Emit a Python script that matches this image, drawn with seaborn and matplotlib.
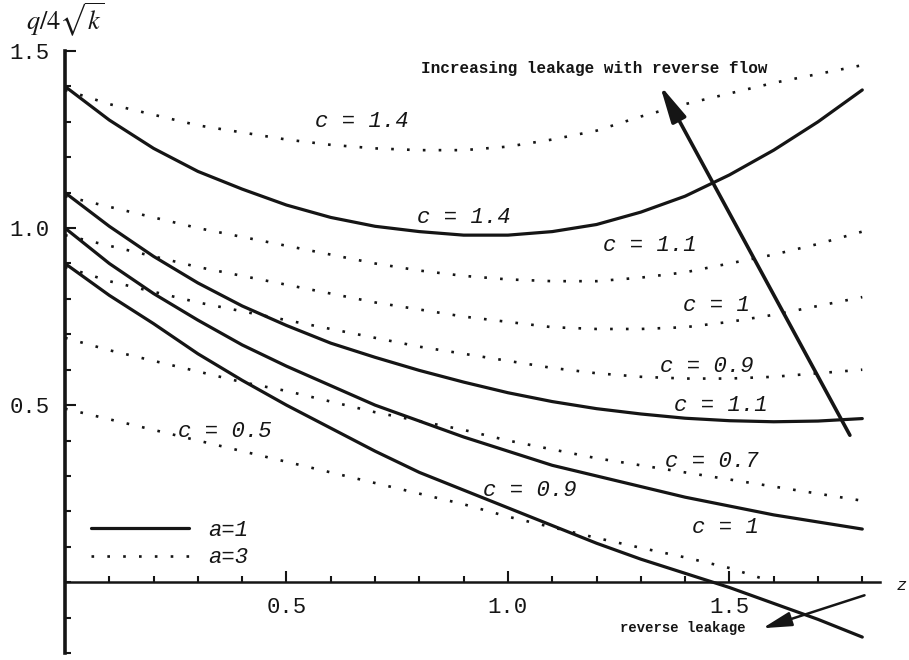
import pandas as pd
import matplotlib.pyplot as plt
import seaborn as sns
from matplotlib.ticker import MultipleLocator

# x positions along each curve
x_pts = [0.0, 0.1, 0.2, 0.3, 0.4, 0.5, 0.6, 0.7, 0.8, 0.9,
         1.0, 1.1, 1.2, 1.3, 1.4, 1.5, 1.6, 1.7, 1.8]

# a = 1 (solid curves)
solid_c14 = [1.40, 1.305, 1.225, 1.16, 1.11, 1.065, 1.03, 1.005, 0.99, 0.98,
             0.98, 0.99, 1.01, 1.045, 1.09, 1.15, 1.22, 1.30, 1.39]
solid_c11 = [1.10, 1.005, 0.92, 0.845, 0.78, 0.725, 0.675, 0.635, 0.598, 0.565,
             0.535, 0.51, 0.49, 0.475, 0.463, 0.456, 0.453, 0.455, 0.462]
solid_c10 = [1.00, 0.90, 0.815, 0.74, 0.67, 0.61, 0.555, 0.50, 0.455, 0.41,
             0.37, 0.33, 0.30, 0.27, 0.24, 0.215, 0.19, 0.17, 0.15]
solid_c09 = [0.90, 0.81, 0.73, 0.645, 0.57, 0.50, 0.435, 0.37, 0.31, 0.26,
             0.21, 0.16, 0.11, 0.065, 0.025, -0.015, -0.06, -0.105, -0.155]

# a = 3 (dotted curves)
dot_c14 = [1.39, 1.35, 1.32, 1.29, 1.27, 1.25, 1.235, 1.225, 1.22, 1.22,
           1.23, 1.25, 1.275, 1.315, 1.35, 1.38, 1.41, 1.435, 1.46]
dot_c11 = [1.09, 1.06, 1.03, 1.00, 0.975, 0.95, 0.925, 0.90, 0.88, 0.865,
           0.855, 0.85, 0.85, 0.86, 0.875, 0.90, 0.925, 0.955, 0.99]
dot_c10 = [0.98, 0.95, 0.92, 0.89, 0.865, 0.84, 0.815, 0.79, 0.77, 0.75,
           0.735, 0.72, 0.715, 0.715, 0.72, 0.735, 0.755, 0.78, 0.805]
dot_c09 = [0.89, 0.85, 0.82, 0.79, 0.765, 0.74, 0.715, 0.69, 0.665, 0.645,
           0.625, 0.605, 0.59, 0.58, 0.575, 0.575, 0.58, 0.59, 0.60]
dot_c07 = [0.69, 0.655, 0.625, 0.595, 0.565, 0.54, 0.51, 0.48, 0.455, 0.43,
           0.40, 0.375, 0.35, 0.33, 0.31, 0.29, 0.27, 0.25, 0.23]
x_c05 = [0.0, 0.1, 0.2, 0.3, 0.4, 0.5, 0.6, 0.7, 0.8, 0.9,
         1.0, 1.1, 1.2, 1.3, 1.4, 1.5, 1.58]
dot_c05 = [0.49, 0.46, 0.43, 0.40, 0.37, 0.34, 0.31, 0.28, 0.25, 0.22,
           0.185, 0.155, 0.125, 0.097, 0.07, 0.04, 0.008]

curves = [
    ("a=1", "c=1.4", x_pts, solid_c14),
    ("a=1", "c=1.1", x_pts, solid_c11),
    ("a=1", "c=1", x_pts, solid_c10),
    ("a=1", "c=0.9", x_pts, solid_c09),
    ("a=3", "c=1.4", x_pts, dot_c14),
    ("a=3", "c=1.1", x_pts, dot_c11),
    ("a=3", "c=1", x_pts, dot_c10),
    ("a=3", "c=0.9", x_pts, dot_c09),
    ("a=3", "c=0.7", x_pts, dot_c07),
    ("a=3", "c=0.5", x_c05, dot_c05),
]

# curve labels: (text, x, y)
labels = [
    ("c = 1.4", 0.67, 1.30),
    ("c = 1.4", 0.90, 1.03),
    ("c = 1.1", 1.32, 0.95),
    ("c = 1", 1.47, 0.78),
    ("c = 0.9", 1.45, 0.61),
    ("c = 1.1", 1.48, 0.50),
    ("c = 0.7", 1.46, 0.34),
    ("c = 1", 1.49, 0.155),
    ("c = 0.9", 1.05, 0.26),
    ("c = 0.5", 0.36, 0.425),
]

sns.set_style("white")
plt.rcParams["font.family"] = ["Liberation Mono", "DejaVu Sans"]
plt.rcParams["mathtext.fontset"] = "stix"

ink = "#151515"
styles = {"a=1": dict(linestyle="-", linewidth=2.3),
          "a=3": dict(linestyle=(0, (1, 5)), linewidth=1.9)}

fig = plt.figure(figsize=(9.09, 6.6), dpi=100)
ax = fig.add_axes([65 / 909, 7 / 660, 815 / 909, 602 / 660])

handles = {}
for a, c, xs, ys in curves:
    df = pd.DataFrame({"x": xs, "q": ys})
    sns.lineplot(data=df, x="x", y="q", ax=ax, color=ink, sort=False,
                 solid_joinstyle="round", **styles[a])
    if a not in handles:
        handles[a] = ax.lines[-1]

ax.set_xlim(0, 1.84)
ax.set_ylim(-0.2, 1.5)
ax.set_xlabel("")
ax.set_ylabel("")

for s in ["top", "right"]:
    ax.spines[s].set_visible(False)
ax.spines["bottom"].set_position(("data", 0))
ax.spines["left"].set_linewidth(2.6)
ax.spines["bottom"].set_linewidth(1.8)
ax.spines["left"].set_color(ink)
ax.spines["bottom"].set_color(ink)

ax.set_xticks([0.5, 1.0, 1.5])
ax.set_xticklabels(["0.5", "1.0", "1.5"])
ax.set_yticks([0.5, 1.0, 1.5])
ax.set_yticklabels(["0.5", "1.0", "1.5"])
ax.xaxis.set_minor_locator(MultipleLocator(0.1))
ax.yaxis.set_minor_locator(MultipleLocator(0.1))
ax.tick_params(which="both", direction="in", colors=ink, width=1.5,
               labelsize=16, bottom=True, left=True)
ax.tick_params(which="major", length=8, pad=11)
ax.tick_params(which="minor", length=4)

for txt, lx, ly in labels:
    ax.text(lx, ly, txt, fontsize=16, style="italic", color=ink,
            ha="center", va="center")

ax.annotate("", xy=(1.343, 1.404), xytext=(1.772, 0.415),
            arrowprops=dict(arrowstyle="-|>,head_width=0.17,head_length=0.8",
                            color=ink, lw=2.6, mutation_scale=28,
                            shrinkA=0, shrinkB=0))
ax.text(1.195, 1.45, "Increasing leakage with reverse flow",
        fontsize=11.5, fontweight="bold", color=ink, ha="center",
        va="center")

ax.annotate("", xy=(1.575, -0.13), xytext=(1.805, -0.037),
            arrowprops=dict(arrowstyle="-|>,head_width=0.2,head_length=0.8",
                            color=ink, lw=1.8, mutation_scale=22,
                            shrinkA=0, shrinkB=0))
ax.text(1.395, -0.128, "reverse leakage", fontsize=10, fontweight="bold",
        color=ink, ha="center", va="center")

ax.legend([handles["a=1"], handles["a=3"]], ["a=1", "a=3"],
          loc="upper left", bbox_to_anchor=(0.018, 0.24), frameon=False,
          handlelength=4.4, handletextpad=0.9, labelspacing=0.3,
          borderpad=0, prop=dict(size=16, style="italic"),
          labelcolor=ink)

fig.text(65 / 909, 1 - 20 / 660, r"$q/4\sqrt{k}$", fontsize=19,
         ha="center", va="center", color=ink)
fig.text(902 / 909, 1 - 585 / 660, "z", fontsize=12, style="italic",
         ha="center", va="center", color=ink)

fig.savefig("out.png", dpi=100)
